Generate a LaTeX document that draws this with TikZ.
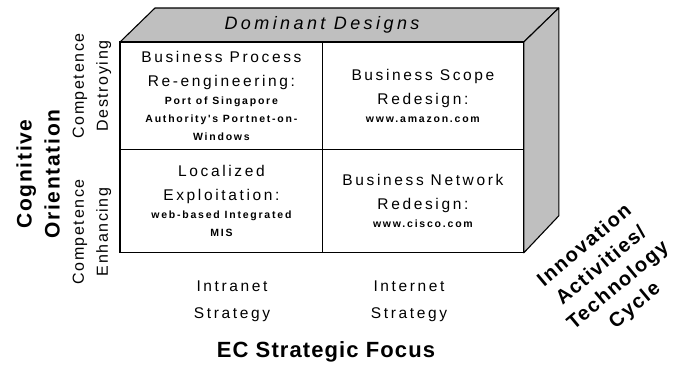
\documentclass[tikz,border=0pt]{standalone}
\usepackage{fontspec}
\setmainfont{Liberation Sans}
\newfontfamily\wide[LetterSpace=17]{Liberation Sans}
\newfontfamily\widebf[LetterSpace=17]{Liberation Sans Bold}
\newfontfamily\slightbf[LetterSpace=8]{Liberation Sans Bold}
\newfontfamily\slight[LetterSpace=10]{Liberation Sans}
\newcommand\ex[1]{{\widebf\fontsize{10.5}{18}\selectfont #1}}
\begin{document}
\begin{tikzpicture}[x=1pt,y=-1pt,
		cell/.style={draw, line width=0.8pt, anchor=north west, inner sep=0pt, align=center,
			font=\wide\fontsize{15.5}{24}\selectfont},
		face/.style={draw, line width=1.1pt, fill=black!25, line join=round},
		axis/.style={align=center, font=\wide\fontsize{15.5}{27}\selectfont},
		side/.style={align=center, rotate=90, font=\slight\fontsize{16}{24}\selectfont},
		bigbf/.style={align=center, font=\slightbf\fontsize{21}{28}\selectfont}]
		\useasboundingbox (0,0) rectangle (687,365);

		\node (tl) [cell, minimum width=202pt, minimum height=107pt] at (120,42) {
			Business Process\\Re-engineering:\\[-6pt]
			\ex{Port of Singapore}\\[-6pt]\ex{Authority's Portnet-on-}\\[-6pt]\ex{Windows}};
		\node (tr) [cell, minimum width=201pt, minimum height=107pt] at (322,42) {
			Business Scope\\Redesign:\\[-6pt]\ex{www.amazon.com}};
		\node (bl) [cell, minimum width=202pt, minimum height=103pt] at (120,149) {
			Localized\\Exploitation:\\[-6pt]\ex{web-based Integrated}\\[-6pt]\ex{MIS}};
		\node (br) [cell, minimum width=201pt, minimum height=103pt] at (322,149) {
			Business Network\\Redesign:\\[-6pt]\ex{www.cisco.com}};

		\coordinate (backl) at ([shift={(35,-34)}]tl.north west);
		\coordinate (backr) at ([shift={(35,-34)}]tr.north east);
		\coordinate (backb) at ([shift={(35,-37)}]br.south east);
		\draw [face] (tl.north west) -- (backl) -- (backr) -- (tr.north east) -- cycle;
		\draw [face] (tr.north east) -- (backr) -- (backb) -- (br.south east) -- cycle;
		\draw [line width=1.2pt] (tl.north west) -- (tr.north east) -- (br.south east) -- (bl.south west) -- cycle;
		\node (dom) at (322,25) {\addfontfeature{LetterSpace=19}\itshape\fontsize{18}{20}\selectfont Dominant Designs};

		\node (destroy) [side] at (92,86) {Competence\\Destroying};
		\node (enhance) [side] at (92,232) {Competence\\Enhancing};
		\node (cogn) [bigbf, rotate=90] at (38,174) {Cognitive\\Orientation};

		\node (intra) [axis] at (232,301) {Intranet\\Strategy};
		\node (inter) [axis] at (409,301) {Internet\\Strategy};
		\node (focus) [bigbf, font=\addfontfeature{LetterSpace=5}\bfseries\fontsize{22}{24}\selectfont] at (326,352) {EC Strategic Focus};

		\node (innov) [bigbf, rotate=40, font=\slightbf\fontsize{20}{26}\selectfont] at (610,276) {Innovation\\Activities/\\Technology\\Cycle};
	\end{tikzpicture}
\end{document}
